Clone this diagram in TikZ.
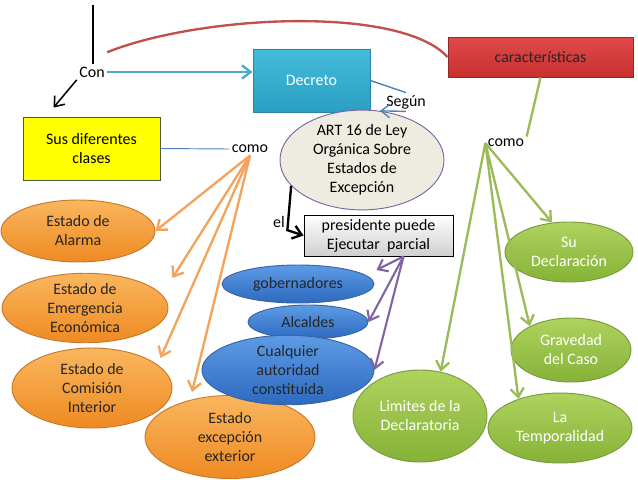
\documentclass[tikz,border=0pt]{standalone}
\usepackage{fontspec}
\setmainfont{Carlito}
\usepackage{xcolor}
\usetikzlibrary{arrows.meta, positioning, shapes.geometric, calc}

\definecolor{tealtop}{HTML}{45BCDA}
\definecolor{tealbot}{HTML}{2A9FC2}
\definecolor{tealedge}{HTML}{2A87A3}
\definecolor{redtop}{HTML}{E04A48}
\definecolor{redbot}{HTML}{C8302F}
\definecolor{rededge}{HTML}{8E2B2A}
\definecolor{susyellow}{HTML}{FFFF00}
\definecolor{susedge}{HTML}{4F5B3A}
\definecolor{artfill}{HTML}{EEECE1}
\definecolor{artedge}{HTML}{8064A2}
\definecolor{presgray}{HTML}{CFCFCF}
\definecolor{otop}{HTML}{FAB65E}
\definecolor{obot}{HTML}{EE8A22}
\definecolor{oedge}{HTML}{C9782C}
\definecolor{btop}{HTML}{5E9BE6}
\definecolor{bbot}{HTML}{2D69BE}
\definecolor{bedge}{HTML}{3A64A0}
\definecolor{gtop}{HTML}{AED35E}
\definecolor{gbot}{HTML}{86B237}
\definecolor{gedge}{HTML}{7A9A3E}
\definecolor{orangeline}{HTML}{F5A35C}
\definecolor{greenline}{HTML}{9BBB59}
\definecolor{purpleline}{HTML}{8064A2}
\definecolor{blueline}{HTML}{4F81BD}
\definecolor{tealline}{HTML}{4BACC6}
\definecolor{redline}{HTML}{C0504D}

\begin{document}
\begin{tikzpicture}[
    x=0.3mm, y=-0.3mm,
    every node/.style={font=\fontsize{13.6}{16.2}\selectfont, align=center},
    lbl/.style={inner sep=2pt},
    box/.style={draw, inner sep=0pt, line width=0.8pt},
    oval/.style={ellipse, draw, inner sep=0pt, line width=0.8pt},
    estado/.style={oval, draw=oedge, top color=otop, bottom color=obot, text=black!85},
    autoridad/.style={oval, draw=bedge, top color=btop, bottom color=bbot, text=black!85},
    rasgo/.style={oval, draw=gedge, top color=gtop, bottom color=gbot, text=white},
    barb/.style={-{Straight Barb[length=2.6mm, width=4mm]}},
    orangearr/.style={barb, draw=orangeline, line width=2pt},
    greenarr/.style={barb, draw=greenline, line width=2pt},
    purplearr/.style={barb, draw=purpleline, line width=1.8pt},
    >=Stealth
]
\useasboundingbox (0, 0) rectangle (638, 479);

% Top row
\coordinate (stem) at (93, 5);
\node[lbl] (con) at (92, 72) {Con};
\node[box, draw=tealedge, top color=tealtop, bottom color=tealbot, text=white,
      minimum width=35.1mm, minimum height=18.9mm] (decreto) at (311.5, 80.5) {Decreto};
\node[box, draw=rededge, top color=redtop, bottom color=redbot, text=black!85,
      minimum width=55.5mm, minimum height=12mm] (car) at (540.5, 57) {características};
\node[lbl] (segun) at (406, 102) {Según};

% Middle row
\node[box, draw=susedge, fill=susyellow, minimum width=41.1mm, minimum height=18.9mm] (sus) at (91.5, 148.5) {Sus diferentes\\clases};
\node[lbl] (como1) at (250, 149) {como};
\node[oval, draw=artedge, fill=artfill, minimum width=49.2mm, minimum height=22.8mm] (art) at (362, 160) {ART 16 de Ley\\Orgánica Sobre\\Estados de\\Excepción};
\node[lbl] (como2) at (506, 143) {como};
\node[lbl] (el) at (279, 222) {el};
\node[box, draw=black, top color=white, bottom color=presgray, minimum width=44.7mm, minimum height=12.3mm] (pres) at (378.5, 235.5) {presidente puede\\Ejecutar~ parcial};

% Estados
\node[estado, minimum width=46.2mm, minimum height=18.6mm] (alarma) at (78, 231) {Estado de\\Alarma};
\node[estado, minimum width=49.8mm, minimum height=19.8mm] (emerg) at (85, 308) {Estado de\\Emergencia\\Económica};
\node[estado, minimum width=48mm, minimum height=24mm] (comision) at (92, 388) {Estado de\\Comisión\\Interior};
\node[estado, minimum width=51mm, minimum height=24.9mm] (exterior) at (230, 437) {Estado\\excepción\\exterior};

% Autoridades
\node[autoridad, minimum width=45.6mm, minimum height=11.4mm] (gob) at (298, 284) {gobernadores};
\node[autoridad, minimum width=36mm, minimum height=10.2mm] (alc) at (308, 322) {Alcaldes};
\node[autoridad, minimum width=51.6mm, minimum height=16.8mm] (cual) at (288, 370) {Cualquier\\autoridad\\constituida};

% Rasgos
\node[rasgo, minimum width=38.4mm, minimum height=18mm] (sudecl) at (569, 252) {Su\\Declaración};
\node[rasgo, minimum width=36mm, minimum height=19.2mm] (grav) at (571, 350) {Gravedad\\del Caso};
\node[rasgo, minimum width=40.2mm, minimum height=27.6mm] (limites) at (420, 416) {Limites de la\\Declaratoria};
\node[rasgo, minimum width=43.2mm, minimum height=21mm] (temp) at (560, 428) {La\\Temporalidad};

% Connectors top
\draw[line width=2.5pt] (stem) -- (stem |- con.north);
\draw[redline, line width=2pt] ($(con.north east)+(0,-12)$) .. controls (200, 15) and (400, 5) .. (car.west);
\draw[barb, tealline, line width=2pt] (con.east) -- (decreto.west |- con.east);
\draw[barb, line width=1.3pt] (con.south west) -- ($(sus.north)+(-38,-9)$);
\draw[blueline, line width=1.2pt] (decreto.east) -- (segun.north);
\draw[barb, blueline, line width=1.2pt] (segun.south) -- (art.70);
\draw[blueline, line width=0.8pt] (sus.east) -- (como1.west);

% Orange
\draw[orangearr] (como1.south) -- (alarma.east);
\draw[orangearr] (como1.south) -- ($(emerg.east)+(4,-30)$);
\draw[orangearr] (como1.south) -- ($(comision.east)+(-12,-30)$);
\draw[orangearr] (como1.south) -- ($(exterior.north)+(-38,-3)$);

% Purple
\draw[barb, line width=2pt] (art.200) -- (el.south east) -- (pres.west);
\draw[purplearr] (pres.-40) -- ($(gob.east)+(2,-14)$);
\draw[purplearr] (pres.-40) -- (alc.east);
\draw[purplearr] (pres.-40) -- (cual.east);

% Green
\draw[greenline, line width=2pt] (car.south) -- (como2.north east);
\draw[greenarr] (como2.west) -- (sudecl.120);
\draw[greenarr] (como2.west) -- (grav.150);
\draw[greenarr] (como2.west) -- (temp.145);
\draw[greenarr] (como2.west) -- (limites.65);

\end{tikzpicture}
\end{document}
